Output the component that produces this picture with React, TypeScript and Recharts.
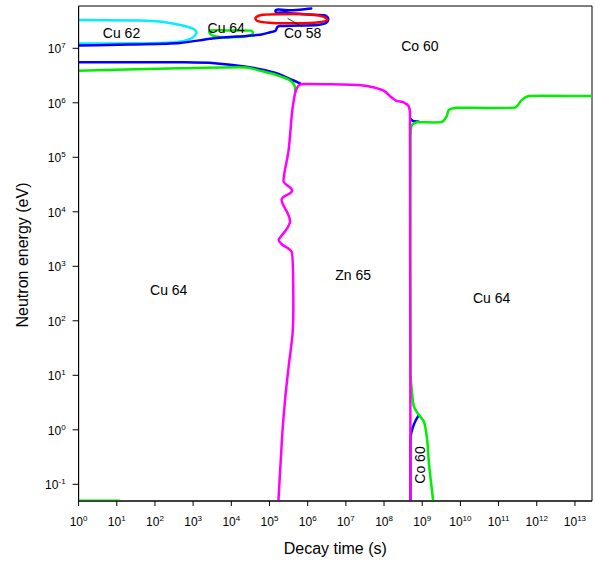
import { ComposedChart, Line, Scatter, XAxis, YAxis, ReferenceArea } from "recharts";

const X_MAX = 2.8e13;
const Y_MIN = 0.0494;
const Y_MAX = 5.97e7;

const xTicks = [1, 1e1, 1e2, 1e3, 1e4, 1e5, 1e6, 1e7, 1e8, 1e9, 1e10, 1e11, 1e12, 1e13];
const yTicks = [1e-1, 1, 1e1, 1e2, 1e3, 1e4, 1e5, 1e6, 1e7];

// contour boundaries, [decay time (s), neutron energy (eV)]
const cu62Cyan = [
  [1, 3.3e7], [40, 3.24e7], [133, 3.1e7], [243, 2.9e7], [600, 2.56e7], [1030, 2.26e7],
  [1230, 1.99e7], [1090, 1.68e7], [718, 1.42e7], [329, 1.29e7], [73, 1.24e7], [1, 1.22e7],
];
const cu64Loop = [
  [2700, 2.1e7], [8970, 2.12e7], [33700, 2.1e7], [36900, 1.87e7], [24900, 1.66e7],
  [6640, 1.59e7], [3040, 1.75e7], [2700, 2.1e7],
];
const co58Red = [
  [42900, 3.6e7], [61500, 4.08e7], [1.81e5, 4.21e7], [1.1e6, 4.17e7], [2.71e6, 3.75e7],
  [3.25e6, 3.3e7], [1.78e6, 2.97e7], [4.47e5, 2.88e7], [99300, 2.94e7], [48300, 3.17e7],
  [42900, 3.6e7],
];
const blueTop = [
  [1, 1.12e7], [22, 1.17e7], [444, 1.25e7], [3230, 1.51e7], [24900, 1.68e7], [61500, 1.79e7],
  [99300, 1.95e7], [1.43e5, 2.1e7], [1.61e5, 2.46e7], [1.93e5, 2.57e7], [6.04e5, 2.62e7],
  [1.78e6, 2.68e7], [3.06e6, 2.95e7], [3.45e6, 3.52e7], [2.71e6, 4.04e7], [8.15e5, 4.21e7],
  [2.45e5, 4.54e7], [1.43e5, 4.83e7], [3.73e5, 4.98e7], [1.24e6, 5.37e7],
];
const blueMid = [
  [1, 5.53e6], [444, 5.53e6], [3640, 5.31e6], [24900, 4.59e6], [61500, 4.08e6],
  [1.51e5, 3.48e6], [3.96e5, 2.62e6], [6.81e5, 2.21e6],
];
const greenMid = [
  [1, 3.88e6], [444, 4.3e6], [24900, 4.45e6], [61500, 3.83e6], [1.51e5, 3.24e6],
  [3.31e5, 2.62e6], [4.47e5, 2.12e6], [4.74e5, 1.58e6],
];
const greenRight = [
  [X_MAX, 1.33e6], [6.11e11, 1.33e6], [4.01e11, 1.12e6], [2.75e11, 8.2e5], [8.05e9, 8.13e5],
  [4.98e9, 7.38e5], [4.42e9, 5.73e5], [3.27e9, 4.45e5], [7.27e8, 4.39e5], [5.38e8, 3.92e5],
  [4.92e8, 2.56e5], [4.92e8, 11], [6.07e8, 2.65], [8.2e8, 1.87], [1.11e9, 1.41],
  [1.35e9, 0.65], [1.5e9, 0.243], [1.94e9, 0.049],
];
const greenLow = [[1, 0.05], [11.9, 0.05]];
const blueRightTop = [[4.92e8, 5.05e5], [5.71e8, 4.64e5], [8.2e8, 4.5e5]];
const blueRightLow = [[4.92e8, 0.049], [4.95e8, 0.74], [5.71e8, 1.12], [6.85e8, 1.51], [8.2e8, 1.87]];
const zn65Magenta = [
  [1.71e5, 0.049], [2.17e5, 0.873], [2.6e5, 4.0], [3.21e5, 15.5], [4.03e5, 59.7],
  [4.21e5, 195], [3.8e5, 1850], [2.21e5, 2460], [1.74e5, 3040], [3.45e5, 6580],
  [2.08e5, 16900], [3.89e5, 24400], [2.35e5, 35600], [3.17e5, 1.36e5], [3.96e5, 7.38e5],
  [4.95e5, 1.72e6], [6.04e5, 2.12e6], [8.65e5, 2.21e6], [2.22e7, 2.12e6], [5.48e7, 1.91e6],
  [1e8, 1.65e6], [1.52e8, 1.28e6], [2.06e8, 1.1e6], [3.33e8, 1.01e6], [4.37e8, 8.73e5],
  [4.78e8, 6.78e5], [4.92e8, 0.049],
];
const co58Leader = [[2.99e5, 3.55e7], [7.1e5, 2.49e7]];

const labels = [
  { t: 13.3, e: 1.52e7, text: "Cu 62" },
  { t: 7360, e: 1.88e7, text: "Cu 64" },
  { t: 7.36e5, e: 1.55e7, text: "Co 58" },
  { t: 8.7e8, e: 8.9e6, text: "Co 60" },
  { t: 229, e: 297, text: "Cu 64" },
  { t: 1.55e7, e: 561, text: "Zn 65" },
  { t: 6.6e10, e: 212, text: "Cu 64" },
  { t: 1.21e9, e: 0.226, text: "Co 60", rot: true },
];

const series = [
  { key: "cyan", data: cu62Cyan, color: "#00eeff" },
  { key: "gloop", data: cu64Loop, color: "#00ee00" },
  { key: "btop", data: blueTop, color: "#0000ff" },
  { key: "red", data: co58Red, color: "#ff0000" },
  { key: "bmid", data: blueMid, color: "#0000ff" },
  { key: "gmid", data: greenMid, color: "#00ee00" },
  { key: "brt", data: blueRightTop, color: "#0000ff" },
  { key: "brl", data: blueRightLow, color: "#0000ff" },
  { key: "gright", data: greenRight, color: "#00ee00" },
  { key: "glow", data: greenLow, color: "#00ee00" },
  { key: "mag", data: zn65Magenta, color: "#ff00ff" },
];

const pts = (a: number[][]) => a.map(([t, e]) => ({ t, e }));

// smooth curve through the points (handles limited so short segments don't bulge)
const smoothCurve = (context: any) => {
  let p: number[][] = [];
  const unit = (dx: number, dy: number) => {
    const l = Math.hypot(dx, dy);
    return l < 1e-9 ? [0, 0] : [dx / l, dy / l];
  };
  return {
    areaStart() {},
    areaEnd() {},
    lineStart() { p = []; },
    point(x: number, y: number) { p.push([x, y]); },
    lineEnd() {
      const n = p.length;
      if (!n) return;
      context.moveTo(p[0][0], p[0][1]);
      if (n < 3) {
        for (let i = 1; i < n; i++) context.lineTo(p[i][0], p[i][1]);
        return;
      }
      const closed = Math.hypot(p[0][0] - p[n - 1][0], p[0][1] - p[n - 1][1]) < 0.5;
      const tan = p.map((pt, i) => {
        let prev = p[i - 1];
        let next = p[i + 1];
        if (closed && i === 0) prev = p[n - 2];
        if (closed && i === n - 1) next = p[1];
        const a = prev ? unit(pt[0] - prev[0], pt[1] - prev[1]) : null;
        const b = next ? unit(next[0] - pt[0], next[1] - pt[1]) : null;
        const la = prev ? Math.hypot(pt[0] - prev[0], pt[1] - prev[1]) : Infinity;
        const lb = next ? Math.hypot(next[0] - pt[0], next[1] - pt[1]) : Infinity;
        let d = a && b ? unit(a[0] + b[0], a[1] + b[1]) : (a || b) as number[];
        if (d[0] === 0 && d[1] === 0) d = b || a || [0, 0];
        return [d[0], d[1], Math.min(la, lb) / 3];
      });
      for (let i = 0; i < n - 1; i++) {
        const [ax, ay] = p[i];
        const [bx, by] = p[i + 1];
        const ta = tan[i];
        const tb = tan[i + 1];
        context.bezierCurveTo(ax + ta[0] * ta[2], ay + ta[1] * ta[2], bx - tb[0] * tb[2], by - tb[1] * tb[2], bx, by);
      }
    },
  };
};

function XTick({ x, y, payload }: any) {
  const n = Math.round(Math.log10(payload.value));
  return (
    <text x={x} y={y + 20} textAnchor="middle" fontSize={12} fill="#000">
      10<tspan dy={-5} fontSize={8}>{n}</tspan>
    </text>
  );
}

function YTick({ x, y, payload }: any) {
  const n = Math.round(Math.log10(payload.value));
  return (
    <text x={x} y={y + 5} textAnchor="end" fontSize={12} fill="#000">
      10<tspan dy={-5} fontSize={8}>{n}</tspan>
    </text>
  );
}

function LabelShape({ cx, cy, payload }: any) {
  if (payload.rot) {
    return (
      <text transform={`translate(${cx},${cy}) rotate(-90)`} textAnchor="middle" fontSize={14} fill="#000">
        {payload.text}
      </text>
    );
  }
  return (
    <text x={cx} y={cy} textAnchor="middle" fontSize={14} fill="#000">
      {payload.text}
    </text>
  );
}

export default function App() {
  return (
    <div style={{ position: "absolute", left: 0, top: 0, width: 595, height: 565, background: "#fff",
                  fontFamily: "'Liberation Sans', Arial, sans-serif" }}>
      <ComposedChart width={595} height={565} margin={{ top: 6, right: 3, bottom: 0, left: 0 }}>
        <XAxis dataKey="t" type="number" scale="log" domain={[1, X_MAX]} ticks={xTicks} interval={0}
               allowDataOverflow tick={<XTick />} tickSize={5} tickMargin={0} height={64}
               stroke="#000" tickLine={{ stroke: "#000" }}
               label={{ content: ({ viewBox }: any) => (
                 <text x={viewBox.x + viewBox.width / 2} y={554} textAnchor="middle" fontSize={16} fill="#000">
                   Decay time (s)
                 </text>
               ) }} />
        <YAxis dataKey="e" type="number" scale="log" domain={[Y_MIN, Y_MAX]} ticks={yTicks} interval={0}
               allowDataOverflow tick={<YTick />} tickSize={6} tickMargin={7} width={78.6}
               stroke="#000" tickLine={{ stroke: "#000" }}
               label={{ content: ({ viewBox }: any) => (
                 <text transform={`translate(28.3,${viewBox.y + viewBox.height / 2 + 1.5}) rotate(-90)`}
                       textAnchor="middle" fontSize={16} fill="#000">
                   Neutron energy (eV)
                 </text>
               ) }} />
        <ReferenceArea x1={1} x2={X_MAX} y1={Y_MIN} y2={Y_MAX} fill="none" stroke="#000" strokeWidth={1}
                       ifOverflow="visible" />
        {series.map((s) => (
          <Line key={s.key} data={pts(s.data)} dataKey="e" type={smoothCurve as any} stroke={s.color}
                strokeWidth={2.5} strokeLinejoin="round" strokeLinecap="round" dot={false} activeDot={false}
                isAnimationActive={false} />
        ))}
        <Line data={pts(co58Leader)} dataKey="e" type="linear" stroke="#000" strokeWidth={0.8}
              dot={false} activeDot={false} isAnimationActive={false} />
        <Scatter data={labels} dataKey="e" shape={LabelShape} isAnimationActive={false} />
      </ComposedChart>
    </div>
  );
}
